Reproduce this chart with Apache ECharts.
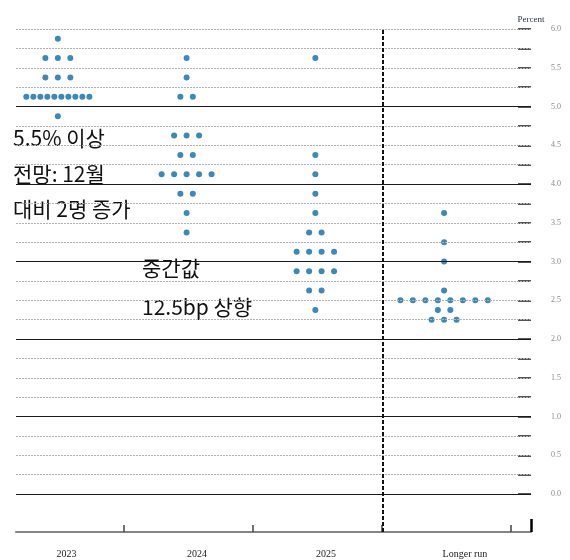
<!DOCTYPE html>
<html>
<head>
<meta charset="utf-8">
<script src="https://cdn.jsdelivr.net/npm/echarts@6/dist/echarts.min.js"></script>
<style>
  body{margin:0;background:#fff;}
  #main{width:570px;height:560px;}
</style>
</head>
<body>
<div id="main"></div>
<script>
// 점도표: 열마다 금리 수준과 그 수준을 고른 위원 수
var columns = ['2023', '2024', '2025', 'Longer run'];
var rates2023 = [5.875, 5.625, 5.375, 5.125, 4.875];
var counts2023 = [1, 3, 3, 10, 1];
var rates2024 = [5.625, 5.375, 5.125, 4.625, 4.375, 4.125, 3.875, 3.625, 3.375];
var counts2024 = [1, 1, 2, 3, 2, 5, 2, 1, 1];
var rates2025 = [5.625, 4.375, 4.125, 3.875, 3.625, 3.375, 3.125, 2.875, 2.625, 2.375];
var counts2025 = [1, 1, 1, 1, 1, 2, 4, 4, 2, 1];
var ratesLonger = [3.625, 3.25, 3.0, 2.625, 2.5, 2.375, 2.25];
var countsLonger = [1, 1, 1, 1, 8, 2, 3];

var yLabelValues = [0, 0.5, 1, 1.5, 2, 2.5, 3, 3.5, 4, 4.5, 5, 5.5, 6];
var solidLevels = [0, 1, 2, 3, 4, 5];
var dottedLevels = [0.25,0.5,0.75,1.25,1.5,1.75,2.25,2.5,2.75,3.25,3.5,3.75,4.25,4.5,4.75,5.25,5.5,5.75,6];
var tickLevels = [0,0.25,0.5,0.75,1,1.25,1.5,1.75,2,2.25,2.5,2.75,3,3.25,3.5,3.75,4,4.25,4.5,4.75,5,5.25,5.5,5.75,6];
var colBounds = [0.515, 1.515, 2.515, 3.515];
var labelPos = [0.068, 1.08, 2.083, 3.162];
var divider = 2.515;

var xMin = -0.325, xMax = 3.675;
var dotStep = 0.097;
var colSpan = [0.49, 0.7, 0.7, 0.7];

var allRates = [rates2023, rates2024, rates2025, ratesLonger];
var allCounts = [counts2023, counts2024, counts2025, countsLonger];

var dots = [];
for (var c = 0; c < allRates.length; c++) {
  for (var i = 0; i < allRates[c].length; i++) {
    var n = allCounts[c][i];
    var step = n > 1 ? Math.min(dotStep, colSpan[c] / (n - 1)) : 0;
    for (var k = 0; k < n; k++) {
      dots.push([c + (k - (n - 1) / 2) * step, allRates[c][i]]);
    }
  }
}

var gridLines = [];
dottedLevels.forEach(function (v) {
  gridLines.push({yAxis: v, lineStyle: {type: [2, 1], color: '#b0b0b0', width: 1}});
});
solidLevels.forEach(function (v) {
  gridLines.push({yAxis: v, lineStyle: {type: 'solid', color: '#1a1a1a', width: 1.2}});
});
gridLines.push({xAxis: divider, lineStyle: {type: [4, 2], color: '#111', width: 2}});

function columnName(v) {
  var best = 0;
  for (var j = 1; j < labelPos.length; j++) {
    if (Math.abs(labelPos[j] - v) < Math.abs(labelPos[best] - v)) best = j;
  }
  return columns[best];
}

var serif = '"Liberation Serif", "DejaVu Serif", serif';
var kr = '"Noto Sans CJK KR", sans-serif';

var myChart = echarts.init(document.getElementById('main'));
var option = {
  animation: false,
  backgroundColor: '#fff',
  grid: {left: 16, right: 39, top: 29, bottom: 28},
  xAxis: [{
    type: 'value',
    min: xMin,
    max: xMax,
    splitLine: {show: false},
    axisLine: {show: true, onZero: false, lineStyle: {color: '#858585', width: 2}},
    axisTick: {show: true, inside: true, length: 7, customValues: colBounds,
      lineStyle: {color: '#444', width: 1.5}},
    axisLabel: {
      show: true, customValues: labelPos, margin: 17,
      showMinLabel: true, showMaxLabel: true, hideOverlap: false,
      fontFamily: serif, fontSize: 10, color: '#222',
      formatter: function (v) { return columnName(v); }
    }
  }, {
    type: 'value',
    position: 'bottom',
    min: xMin,
    max: xMax,
    splitLine: {show: false},
    axisLine: {show: false, onZero: false},
    axisLabel: {show: false},
    axisTick: {show: true, inside: true, length: 13, customValues: [xMax],
      lineStyle: {color: '#000', width: 2.5}}
  }],
  yAxis: {
    type: 'value',
    position: 'right',
    min: -0.49,
    max: 6,
    name: 'Percent',
    nameLocation: 'end',
    nameGap: 5,
    nameTextStyle: {fontFamily: serif, fontSize: 9, color: '#2b3345'},
    splitLine: {show: false},
    axisLine: {show: false, onZero: false},
    axisTick: {show: true, inside: true, length: 13, customValues: tickLevels,
      lineStyle: {color: '#555', width: 2}},
    axisLabel: {
      show: true, customValues: yLabelValues,
      showMinLabel: true, showMaxLabel: true, hideOverlap: false,
      margin: 20, fontFamily: serif, fontSize: 8, color: '#888',
      formatter: function (v) { return Number(v).toFixed(1); }
    }
  },
  graphic: [
    {type: 'text', left: 13, top: 128, style: {text: '5.5% 이상', font: '21px ' + kr, fill: '#111'}},
    {type: 'text', left: 13, top: 164, style: {text: '전망: 12월', font: '21px ' + kr, fill: '#111'}},
    {type: 'text', left: 13, top: 199, style: {text: '대비 2명 증가', font: '21px ' + kr, fill: '#111'}},
    {type: 'text', left: 142, top: 258, style: {text: '중간값', font: '21px ' + kr, fill: '#111'}},
    {type: 'text', left: 142, top: 297, style: {text: '12.5bp 상향', font: '21px ' + kr, fill: '#111'}}
  ],
  series: [{
    type: 'scatter',
    data: [],
    z: 1,
    silent: true,
    markLine: {
      silent: true,
      symbol: ['none', 'none'],
      label: {show: false},
      data: gridLines
    }
  }, {
    type: 'scatter',
    z: 3,
    symbolSize: 6,
    itemStyle: {color: '#0b6aa6'},
    data: dots
  }]
};
myChart.setOption(option);
</script>
</body>
</html>
